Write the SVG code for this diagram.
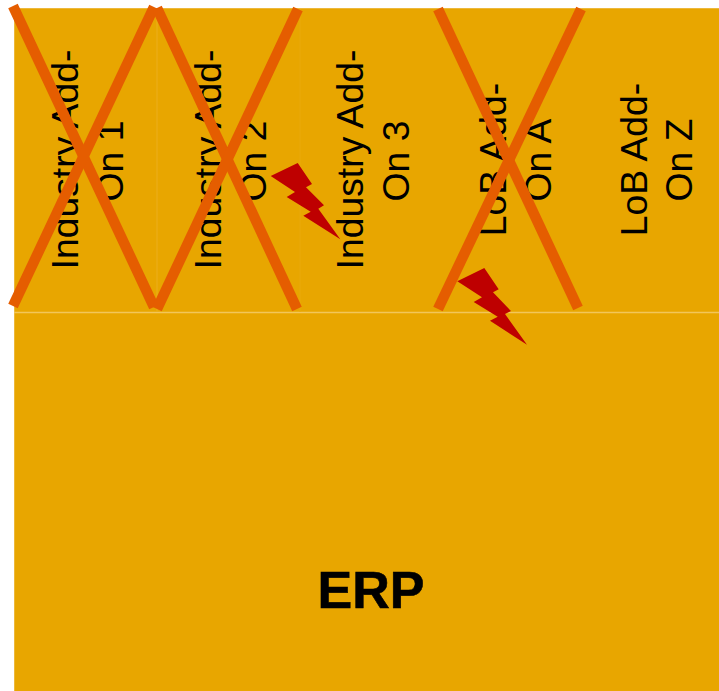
<svg xmlns="http://www.w3.org/2000/svg" width="719" height="691" viewBox="0 0 719 691">
<style>
.box{fill:#E8A600;stroke:#EDB83A;stroke-width:1}
.sep{stroke:#F2C65A;stroke-width:1.5;fill:none}
.faint{stroke:#EBAE1C;stroke-width:1;fill:none}
.fainter{stroke:#E9A90A;stroke-width:1;fill:none}
.label{font-family:"Liberation Sans",Arial,sans-serif;font-size:37.3px;fill:#000;text-anchor:middle}
.erp{font-family:"Liberation Sans",Arial,sans-serif;font-size:52px;font-weight:bold;fill:#000;text-anchor:middle;stroke:#000;stroke-width:.6}
.cross{stroke:#E55D00;stroke-width:10.5;fill:none}
.bolt{fill:#BE0000}
</style>
<rect width="719" height="691" fill="#fff"/>
<g id="background">
<rect class="box" x="14.500" y="8.500" width="710" height="690"/>
<line class="sep" x1="14" y1="312.500" x2="719" y2="312.500"/>
<line class="faint" x1="157" y1="9" x2="157" y2="312"/>
<line class="fainter" x1="300" y1="9" x2="300" y2="312"/>
</g>
<g id="erp"><text class="erp" x="371" y="608">ERP</text></g>
<g id="industry-1"><text class="label" transform="translate(78 159.500) rotate(-90)">Industry Add-</text><text class="label" transform="translate(123 161) rotate(-90)">On 1</text></g>
<g id="industry-2"><text class="label" transform="translate(220.500 159.500) rotate(-90)">Industry Add-</text><text class="label" transform="translate(266 161) rotate(-90)">On 2</text></g>
<g id="industry-3"><text class="label" transform="translate(363 159.500) rotate(-90)">Industry Add-</text><text class="label" transform="translate(408.500 161) rotate(-90)">On 3</text></g>
<g id="lob-a"><text class="label" transform="translate(506 159.500) rotate(-90)">LoB Add-</text><text class="label" transform="translate(551 160) rotate(-90)">On A</text></g>
<g id="lob-z"><text class="label" transform="translate(647 159.500) rotate(-90)">LoB Add-</text><text class="label" transform="translate(692 160) rotate(-90)">On Z</text></g>
<g id="connectors">
<line class="cross" x1="13" y1="6" x2="154" y2="307"/>
<line class="cross" x1="13" y1="306" x2="154" y2="7"/>
<line class="cross" x1="157" y1="8" x2="297" y2="309"/>
<line class="cross" x1="157" y1="309" x2="298" y2="9"/>
<line class="cross" x1="438" y1="9" x2="578" y2="308"/>
<line class="cross" x1="438" y1="309" x2="581" y2="9"/>
</g>
<g id="bolt-1"><polygon class="bolt" points="270.700,176 297.700,163 312,184 306,187.300 324,205.300 318.300,208.700 340.300,239.300 303.300,215.700 310.700,211.700 286.700,197 295,192"/></g>
<g id="bolt-2"><polygon class="bolt" points="457.300,281.300 484.300,268 498.700,289.300 493,292.300 511,311 505,314 527,344.700 490,320.700 497.700,316.700 473.700,302 482,297.300"/></g>
</svg>
